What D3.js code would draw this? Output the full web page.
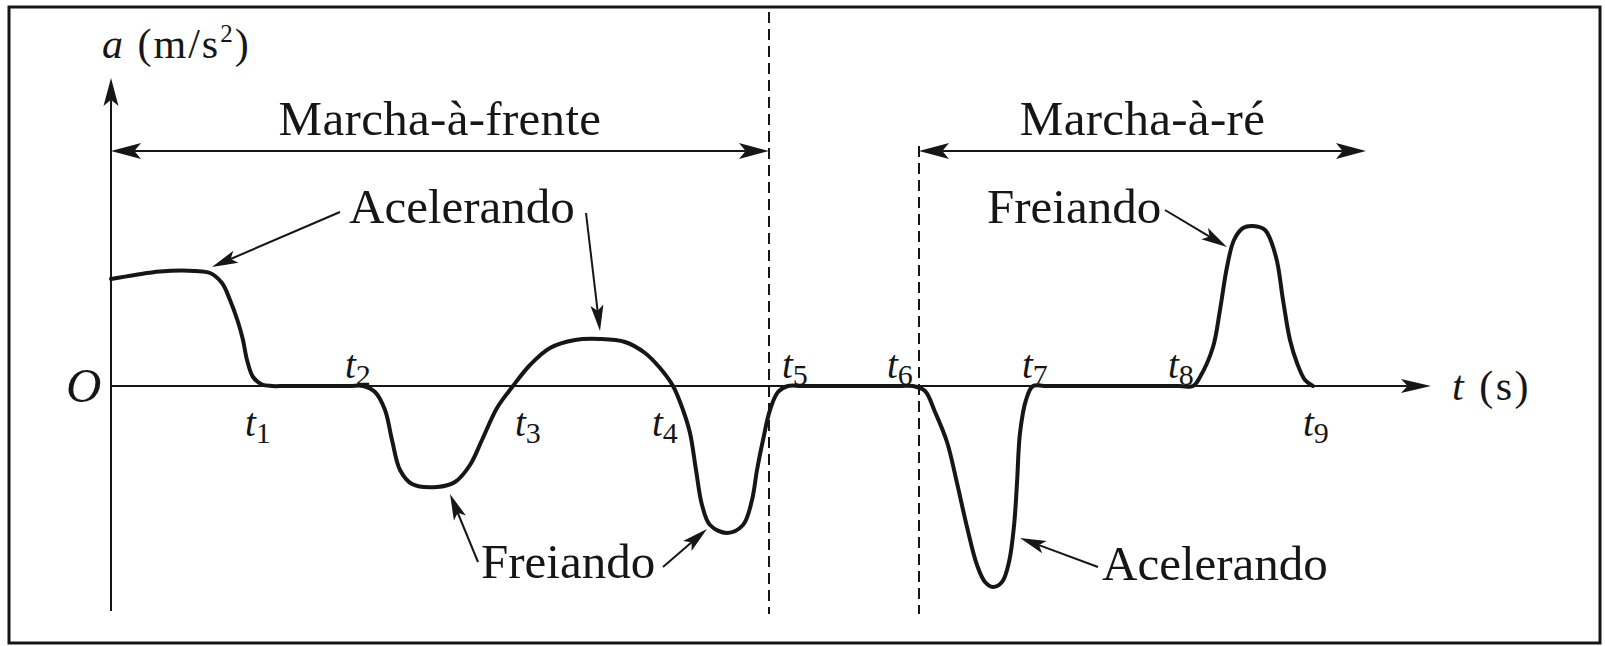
<!DOCTYPE html>
<html>
<head>
<meta charset="utf-8">
<script src="https://cdn.jsdelivr.net/npm/d3@7"></script>
<style>
  html, body { margin: 0; padding: 0; background: #fff; }
  svg text { font-family: "Liberation Serif", "Times New Roman", serif; fill: #161616; }
</style>
</head>
<body>
<div id="chart"></div>
<script>
// acceleration curve (t and a in arbitrary units)
const curveT = [0, 2.4, 4.9, 8.4, 9.9, 11.1, 11.9, 12.7, 13.2, 13.6, 14.2, 15.1, 16.1, 17.5, 23.8,
  25.2, 26.4, 27.4, 28.1, 28.9, 30.1, 32.6, 34.4, 35.9, 37.1, 38.6, 40.2,
  41.9, 43.9, 46.4, 48.9, 51.4, 53.4, 54.9, 56.2,
  57.2, 57.9, 58.5, 59.1, 59.9, 61.6, 63.2, 64.1, 64.6, 65.2, 65.9, 66.7, 67.7, 69.2, 78.8,
  80.2, 81.4, 82.4, 83.6, 84.6, 85.6, 86.6, 87.4, 88.2, 89.1, 89.8, 90.3, 90.6, 90.9, 91.5, 92.2, 93.6, 106.8,
  108.2, 108.9, 110.2, 110.9, 111.6, 112.3, 113.2, 114.2, 115.4, 116.5, 117.2, 117.9, 118.6, 119.4, 120.2];
const curveA = [10.7, 11.1, 11.45, 11.5, 11.3, 10.3, 8.6, 6.4, 4.6, 2.6, 0.9, 0.15, 0, 0, 0,
  0, -0.6, -2.4, -5.4, -8.4, -9.8, -10.1, -9.6, -7.9, -5.4, -2.2, 0,
  2.1, 3.8, 4.6, 4.7, 4.4, 3.3, 1.8, 0,
  -2.4, -4.7, -8.4, -11.9, -13.9, -14.7, -13.9, -11.4, -8.4, -5.4, -2.4, -0.6, 0, 0, 0,
  0, -0.5, -2.6, -5.6, -9.7, -14.1, -17.9, -19.6, -20.1, -19.6, -17.6, -14.0, -9.7, -4.7, -1.4, 0, 0, 0,
  0, 0.9, 3.9, 7.6, 11.9, 14.6, 15.8, 16.0, 15.6, 12.9, 8.6, 4.6, 2.3, 0.6, 0];

// moments t1..t9 and where their labels sit
const tickNames = ["1", "2", "3", "4", "5", "6", "7", "8", "9"];
const tickTimes = [16.1, 25.2, 40.2, 56.2, 67.7, 80.2, 92.2, 108.2, 120.2];
const tickAbove = [false, true, false, false, true, true, true, true, false];

// phases (forward / reverse)
const phaseNames = ["Marcha-à-frente", "Marcha-à-ré"];
const phaseStart = [0, 80.8];
const phaseEnd = [65.8, 125.5];

// annotations: text anchor and arrows (data units)
const noteTexts = ["Acelerando", "Freiando", "Acelerando", "Freiando"];
const notePos = [[23.8, 16.3], [37.0, -19.2], [99.1, -19.4], [87.6, 16.3]];
const noteArrows = [
  [[[22.9, 17.4], [10.1, 11.9]], [[47.5, 17.3], [48.9, 5.5]]],
  [[[36.7, -17.6], [33.9, -10.8]], [[55.2, -18.1], [59.6, -14.3]]],
  [[[98.7, -18.1], [90.9, -15.2]]],
  [[[105.4, 17.6], [111.6, 13.9]]]
];

const width = 1605, height = 646;
const ink = "#161616";
const labelDx = [-27, -18, 2, -21, -6, -26, -11, -25, -10];

const svg = d3.select("#chart").append("svg")
  .attr("width", width)
  .attr("height", height);

const x = d3.scaleLinear().domain([0, 132]).range([111, 1431]);
const y = d3.scaleLinear().domain([-22.5, 30.8]).range([611, 78]);

// frame
svg.append("rect")
  .attr("x", 9).attr("y", 7)
  .attr("width", 1591).attr("height", 636)
  .attr("fill", "none")
  .attr("stroke", ink)
  .attr("stroke-width", 3);

function arrowHead(x1, y1, x2, y2, len, half) {
  const ang = Math.atan2(y2 - y1, x2 - x1);
  const c = Math.cos(ang), s = Math.sin(ang);
  const bx = x2 - len * c, by = y2 - len * s;
  const nx = x2 - len * 0.78 * c, ny = y2 - len * 0.78 * s;
  const pts = [[x2, y2], [bx - half * s, by + half * c], [nx, ny], [bx + half * s, by - half * c]];
  svg.append("path")
    .attr("d", "M" + pts.map(p => p.join(",")).join("L") + "Z")
    .attr("fill", ink);
  return [nx, ny];
}

function arrowLine(x1, y1, x2, y2, len, half, width) {
  const end = arrowHead(x1, y1, x2, y2, len, half);
  svg.append("line")
    .attr("x1", x1).attr("y1", y1)
    .attr("x2", end[0]).attr("y2", end[1])
    .attr("stroke", ink)
    .attr("stroke-width", width);
}

// axes
arrowLine(x(0), y(-22.5), x(0), y(30.8), 28, 7.5, 2);
arrowLine(x(0), y(0), x(132), y(0), 30, 7, 2);

svg.append("text")
  .attr("x", 66).attr("y", 402)
  .style("font-size", "49px")
  .style("font-style", "italic")
  .text("O");

const yLab = svg.append("text")
  .attr("x", 102).attr("y", 58)
  .style("font-size", "42px")
  .style("letter-spacing", "2px");
yLab.append("tspan").style("font-style", "italic").text("a");
yLab.append("tspan").text(" (m/s");
yLab.append("tspan").attr("dy", -16).style("font-size", "25px").text("2");
yLab.append("tspan").attr("dy", 16).text(")");

const xLab = svg.append("text")
  .attr("x", 1452).attr("y", 400)
  .style("font-size", "42px")
  .style("letter-spacing", "2.5px");
xLab.append("tspan").style("font-style", "italic").text("t");
xLab.append("tspan").text(" (s)");

// dashed separators
svg.append("line")
  .attr("x1", x(phaseEnd[0])).attr("x2", x(phaseEnd[0]))
  .attr("y1", 12).attr("y2", y(-22.8))
  .attr("stroke", ink).attr("stroke-width", 2)
  .attr("stroke-dasharray", "11,6");
svg.append("line")
  .attr("x1", x(phaseStart[1])).attr("x2", x(phaseStart[1]))
  .attr("y1", y(24)).attr("y2", y(-22.8))
  .attr("stroke", ink).attr("stroke-width", 2)
  .attr("stroke-dasharray", "11,6");

// phase arrows
phaseNames.forEach((name, i) => {
  const x1 = x(phaseStart[i]), x2 = x(phaseEnd[i]), yy = y(23.5);
  const a = arrowHead(x2, yy, x1, yy, 30, 8);
  const b = arrowHead(x1, yy, x2, yy, 30, 8);
  svg.append("line")
    .attr("x1", a[0]).attr("y1", yy)
    .attr("x2", b[0]).attr("y2", yy)
    .attr("stroke", ink).attr("stroke-width", 2);
  svg.append("text")
    .attr("x", (x1 + x2) / 2).attr("y", y(25.1))
    .attr("text-anchor", "middle")
    .style("font-size", "49px")
    .style("letter-spacing", "0.3px")
    .text(name);
});

// curve
const curveData = curveT.map((t, i) => ({ t, a: curveA[i] }));
const line = d3.line()
  .x(d => x(d.t))
  .y(d => y(d.a))
  .curve(d3.curveCatmullRom.alpha(0.5));

svg.append("path")
  .datum(curveData)
  .attr("d", line)
  .attr("fill", "none")
  .attr("stroke", ink)
  .attr("stroke-width", 4)
  .attr("stroke-linejoin", "round")
  .attr("stroke-linecap", "round");

// tick labels t1..t9
tickNames.forEach((n, i) => {
  const lab = svg.append("text")
    .attr("x", x(tickTimes[i]) + labelDx[i])
    .attr("y", tickAbove[i] ? 378 : 436)
    .style("font-size", "39px");
  lab.append("tspan").style("font-style", "italic").text("t");
  lab.append("tspan").attr("dy", 7).style("font-size", "30px").text(n);
});

// annotations
noteTexts.forEach((txt, i) => {
  svg.append("text")
    .attr("x", x(notePos[i][0])).attr("y", y(notePos[i][1]))
    .style("font-size", "49px")
    .text(txt);
  noteArrows[i].forEach(([p, q]) => {
    arrowLine(x(p[0]), y(p[1]), x(q[0]), y(q[1]), 26, 6.5, 2);
  });
});
</script>
</body>
</html>
